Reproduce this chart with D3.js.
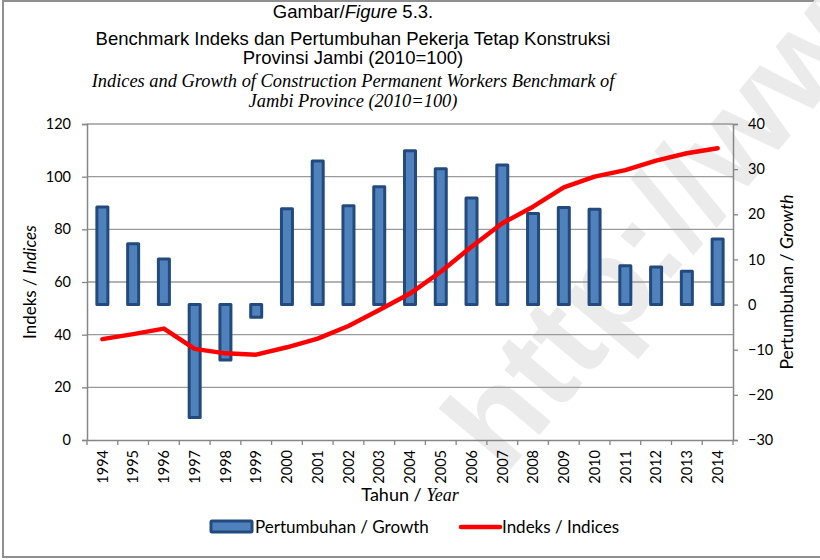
<!DOCTYPE html>
<html>
<head>
<meta charset="utf-8">
<script src="https://cdn.jsdelivr.net/npm/d3@7"></script>
<style>
  body { margin: 0; background: #fff; }
  svg { display: block; }
</style>
</head>
<body>
<div id="chart"></div>
<script>
// Data
const years = ['1994', '1995', '1996', '1997', '1998', '1999', '2000', '2001', '2002', '2003', '2004',
    '2005', '2006', '2007', '2008', '2009', '2010', '2011', '2012', '2013', '2014'];
const growth = [21.6, 13.5, 10.1, -25.0, -12.3, -2.8, 21.2, 31.8, 21.9, 26.1, 34.1,
    30.1, 23.6, 30.9, 20.2, 21.5, 21.1, 8.6, 8.3, 7.4, 14.5];
const indices = [38.3, 40.2, 42.3, 34.6, 32.9, 32.4, 35.2, 38.5, 43.3, 49.4, 55.6,
    63.9, 73.4, 82.3, 88.6, 95.9, 100, 102.5, 106.1, 108.9, 110.8];
const leftTicks = [0, 20, 40, 60, 80, 100, 120];
const rightTicks = [-30, -20, -10, 0, 10, 20, 30, 40];

const width = 820;
const height = 560;
const plot = { left: 87, right: 733, top: 124, bottom: 440 };

const svg = d3.select('#chart')
    .append('svg')
    .attr('width', width)
    .attr('height', height);

// outer frame
svg.append('rect')
    .attr('x', 3).attr('y', 1)
    .attr('width', 840).attr('height', 556)
    .attr('fill', '#fff')
    .attr('stroke', '#8f8f8f')
    .attr('stroke-width', 2);

// Watermark (sits behind the chart marks)
svg.append('text')
    .attr('transform', 'translate(505,476) rotate(-50)')
    .style('font', 'bold 130px "Liberation Sans", Arial, sans-serif')
    .attr('fill', '#ebebeb')
    .text('http://www');

// Titles
const title = svg.append('g')
    .attr('text-anchor', 'middle')
    .attr('fill', '#000');

const sans = '18.5px "Liberation Sans", Arial, sans-serif';
const serifItalic = 'italic 18.4px "Liberation Serif", "Times New Roman", serif';

const t1 = title.append('text')
    .attr('x', 353).attr('y', 18)
    .style('font', sans);
t1.append('tspan').text('Gambar/');
t1.append('tspan').style('font-style', 'italic').text('Figure');
t1.append('tspan').text(' 5.3.');

title.append('text')
    .attr('x', 353).attr('y', 45)
    .style('font', sans)
    .text('Benchmark Indeks dan Pertumbuhan Pekerja Tetap Konstruksi');

title.append('text')
    .attr('x', 353).attr('y', 64)
    .style('font', sans)
    .text('Provinsi Jambi (2010=100)');

title.append('text')
    .attr('x', 353).attr('y', 87)
    .style('font', serifItalic)
    .text('Indices and Growth of Construction Permanent Workers Benchmark of');

title.append('text')
    .attr('x', 353).attr('y', 107)
    .style('font', serifItalic)
    .text('Jambi Province (2010=100)');

// Scales
const x = d3.scaleBand()
    .domain(years)
    .range([plot.left, plot.right]);

const yLeft = d3.scaleLinear()
    .domain([0, 120])
    .range([plot.bottom, plot.top]);

const yRight = d3.scaleLinear()
    .domain([-30, 40])
    .range([plot.bottom, plot.top]);

const axisFont = '14.5px Lato, "Open Sans", sans-serif';
const axisColor = '#868686';

// Gridlines
svg.append('g')
    .selectAll('line')
    .data(leftTicks.filter(d => d > 0))
    .enter()
    .append('line')
    .attr('x1', plot.left).attr('x2', plot.right)
    .attr('y1', d => yLeft(d)).attr('y2', d => yLeft(d))
    .attr('stroke', '#9a9a9a')
    .attr('stroke-width', 1.3);

// Left axis
const leftAxis = svg.append('g')
    .attr('transform', `translate(${plot.left},0)`)
    .call(d3.axisLeft(yLeft).tickValues(leftTicks).tickSize(5).tickPadding(11));
leftAxis.select('.domain').attr('stroke', axisColor).attr('stroke-width', 1.5);
leftAxis.selectAll('.tick line').attr('stroke', axisColor).attr('stroke-width', 1.3);
leftAxis.selectAll('text').style('font', axisFont).attr('fill', '#000');

// Right axis
const rightAxis = svg.append('g')
    .attr('transform', `translate(${plot.right},0)`)
    .call(d3.axisRight(yRight).tickValues(rightTicks).tickSize(5).tickPadding(10));
rightAxis.select('.domain').attr('stroke', axisColor).attr('stroke-width', 1.5);
rightAxis.selectAll('.tick line').attr('stroke', axisColor).attr('stroke-width', 1.3);
rightAxis.selectAll('text').style('font', axisFont).attr('fill', '#000');

// Bottom axis (labels at band centres, ticks at band edges)
const bottomAxis = svg.append('g')
    .attr('transform', `translate(0,${plot.bottom})`)
    .call(d3.axisBottom(x).tickSize(0).tickPadding(0));
bottomAxis.select('.domain').attr('stroke', axisColor).attr('stroke-width', 1.5);
bottomAxis.selectAll('text')
    .style('font', axisFont)
    .attr('fill', '#000')
    .attr('transform', 'rotate(-90)')
    .attr('text-anchor', 'end')
    .attr('x', -10)
    .attr('y', 0)
    .attr('dy', '0.36em');

bottomAxis.append('g')
    .selectAll('line')
    .data(years.concat(['end']))
    .enter()
    .append('line')
    .attr('x1', d => d === 'end' ? plot.right : x(d))
    .attr('x2', d => d === 'end' ? plot.right : x(d))
    .attr('y1', 0).attr('y2', 5)
    .attr('stroke', axisColor)
    .attr('stroke-width', 1.3);

// Axis titles
svg.append('text')
    .attr('transform', `translate(36,${(plot.top + plot.bottom) / 2}) rotate(-90)`)
    .attr('text-anchor', 'middle')
    .style('font', '17px Lato, sans-serif')
    .call(t => {
        t.append('tspan').text('Indeks / ');
        t.append('tspan').style('font-style', 'italic').text('Indices');
    });

svg.append('text')
    .attr('transform', `translate(793,${(plot.top + plot.bottom) / 2}) rotate(-90)`)
    .attr('text-anchor', 'middle')
    .style('font', '17.5px Lato, sans-serif')
    .call(t => {
        t.append('tspan').text('Pertumbuhan / ');
        t.append('tspan').style('font-style', 'italic').text('Growth');
    });

svg.append('text')
    .attr('x', (plot.left + plot.right) / 2)
    .attr('y', 501)
    .attr('text-anchor', 'middle')
    .style('font', '18px Lato, sans-serif')
    .call(t => {
        t.append('tspan').text('Tahun / ');
        t.append('tspan')
            .style('font', 'italic 18px "Liberation Serif", "Times New Roman", serif')
            .text('Year');
    });

// Bars (growth, right axis)
const barWidth = 11;
svg.append('g')
    .selectAll('rect')
    .data(years.map((y, i) => ({ year: y, value: growth[i] })))
    .enter()
    .append('rect')
    .attr('x', d => x(d.year) + x.bandwidth() / 2 - barWidth / 2)
    .attr('y', d => yRight(Math.max(0, d.value)))
    .attr('width', barWidth)
    .attr('height', d => Math.abs(yRight(d.value) - yRight(0)))
    .attr('fill', '#4F81BD')
    .attr('stroke', '#234a7d')
    .attr('stroke-width', 3)
    .attr('stroke-linejoin', 'round');

// Line (indices, left axis)
const line = d3.line()
    .x((d, i) => x(years[i]) + x.bandwidth() / 2)
    .y(d => yLeft(d));

svg.append('path')
    .datum(indices)
    .attr('d', line)
    .attr('fill', 'none')
    .attr('stroke', '#ff0000')
    .attr('stroke-width', 4.5)
    .attr('stroke-linejoin', 'round')
    .attr('stroke-linecap', 'round');

// Legend
const legend = svg.append('g')
    .style('font', '17px Lato, sans-serif');

legend.append('rect')
    .attr('x', 211).attr('y', 521)
    .attr('width', 41).attr('height', 11)
    .attr('fill', '#4F81BD')
    .attr('stroke', '#234a7d')
    .attr('stroke-width', 3)
    .attr('rx', 1);
legend.append('text')
    .attr('x', 255).attr('y', 533)
    .text('Pertumbuhan / Growth');

legend.append('line')
    .attr('x1', 461).attr('x2', 500)
    .attr('y1', 527).attr('y2', 527)
    .attr('stroke', '#ff0000')
    .attr('stroke-width', 4.5)
    .attr('stroke-linecap', 'round');
legend.append('text')
    .attr('x', 502).attr('y', 533)
    .text('Indeks / Indices');
</script>
</body>
</html>
